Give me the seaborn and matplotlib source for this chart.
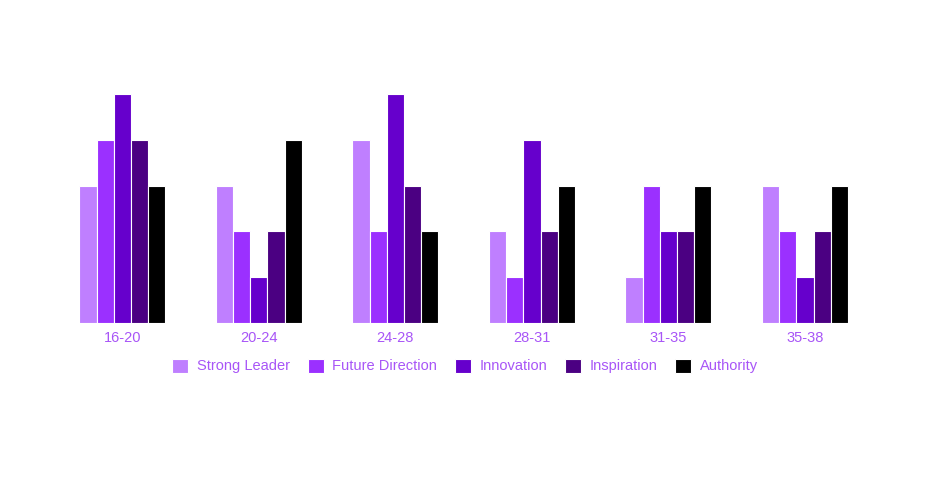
import numpy as np
import pandas as pd
import matplotlib.pyplot as plt
import seaborn as sns

# age groups and trait scores
age_groups = ['16-20', '20-24', '24-28', '28-31', '31-35', '35-38']
strong_leader = [3, 3, 4, 2, 1, 3]
future_direction = [4, 2, 2, 1, 3, 2]
innovation = [5, 1, 5, 4, 2, 1]
inspiration = [4, 2, 3, 2, 2, 2]
authority = [3, 4, 2, 3, 3, 3]

series_names = ['Strong Leader', 'Future Direction', 'Innovation', 'Inspiration', 'Authority']
colors = ['#bf7fff', '#9b30ff', '#6600cc', '#4b0082', '#000000']
text_color = '#a855f7'

rows = []
for name, vals in zip(series_names, [strong_leader, future_direction, innovation, inspiration, authority]):
    for g, v in zip(age_groups, vals):
        rows.append({'group': g, 'trait': name, 'value': v})
df = pd.DataFrame(rows)

sns.set_style('white')
plt.rcParams['font.family'] = ['Liberation Sans', 'DejaVu Sans']

fig = plt.figure(figsize=(9.4, 4.93), dpi=100)
ax = fig.add_axes([0.0575, 0.345, 0.8715, 0.464])

sns.barplot(data=df, x='group', y='value', hue='trait', hue_order=series_names,
            palette=colors, saturation=1, width=0.63, edgecolor='white', linewidth=0.8,
            errorbar=None, ax=ax)

ax.set_ylim(0, 5)
ax.set_xlim(-0.5, len(age_groups) - 0.5)
ax.set_xlabel('')
ax.set_ylabel('')
ax.set_yticks([])
ax.tick_params(axis='x', length=0, pad=6, labelsize=10.5, labelcolor=text_color)
for s in ax.spines.values():
    s.set_visible(False)

handles, labels = ax.get_legend_handles_labels()
ax.get_legend().remove()
fig.legend(handles, labels, loc='center', bbox_to_anchor=(465 / 940, 1 - 366 / 493),
           ncol=5, frameon=False, fontsize=10.5, labelcolor=text_color,
           handlelength=1.1, handleheight=1.1, handletextpad=0.6, columnspacing=1.2)

fig.savefig('out.png', dpi=100)
